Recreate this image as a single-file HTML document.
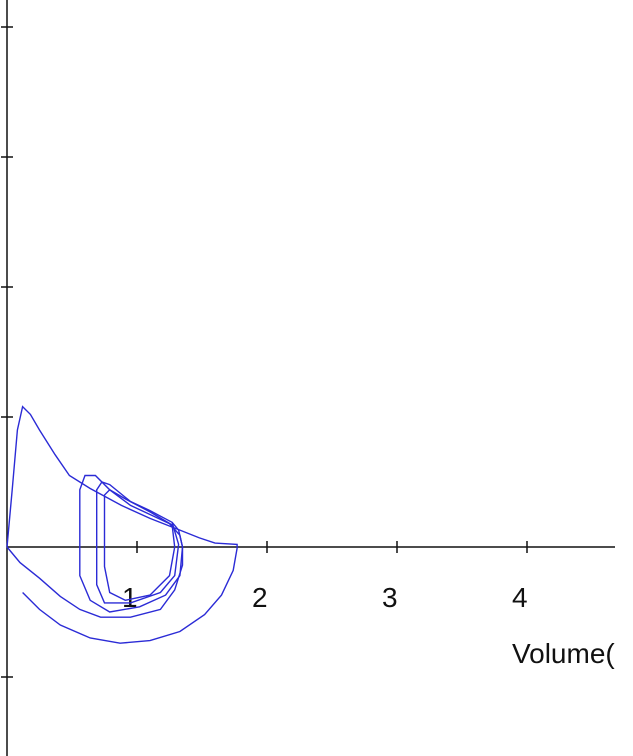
<!DOCTYPE html>
<html><head><meta charset="utf-8"><style>
html,body{margin:0;padding:0;background:#fff;}
svg{display:block;}
text{font-family:"Liberation Sans",sans-serif;}
</style></head><body>
<svg id="chart" width="633" height="756" viewBox="0 0 633 756">
<g id="axes"></g>
<g id="series"></g>
<text x="512" y="663" font-size="28" fill="#111">Volume(</text>
</svg>
<script>
const xTicks=[1,2,3,4];
const yTicks=[-1,1,2,3,4];
// loops in [volume, flow]
const loopBig=[[0,0],[0.04,0.44],[0.08,0.9],[0.12,1.08],[0.18,1.02],[0.25,0.9],[0.37,0.71],[0.48,0.55],[0.64,0.45],[0.88,0.32],[1.1,0.22],[1.33,0.13],[1.48,0.07],[1.6,0.03],[1.77,0.02],[1.77,-0.01],[1.74,-0.18],[1.65,-0.37],[1.52,-0.52],[1.33,-0.65],[1.1,-0.72],[0.87,-0.74],[0.64,-0.7],[0.41,-0.6],[0.25,-0.48],[0.12,-0.35]];
const loopLow=[[0,0],[0.1,-0.12],[0.25,-0.24],[0.41,-0.38],[0.56,-0.48],[0.72,-0.54],[0.95,-0.54],[1.18,-0.48],[1.29,-0.33],[1.35,-0.14],[1.35,0],[1.32,0.13],[1.27,0.19]];
const loopA=[[0.56,0],[0.56,0.44],[0.6,0.55],[0.68,0.55],[0.79,0.44],[0.95,0.32],[1.1,0.25],[1.25,0.18],[1.33,0.09],[1.35,0],[1.33,-0.22],[1.22,-0.37],[1.02,-0.46],[0.79,-0.5],[0.64,-0.41],[0.56,-0.22],[0.56,0]];
const loopB=[[0.69,-0.1],[0.69,0.44],[0.73,0.5],[0.79,0.48],[0.95,0.35],[1.1,0.28],[1.27,0.19],[1.32,0.02],[1.29,-0.22],[1.18,-0.35],[0.95,-0.43],[0.75,-0.43],[0.69,-0.29],[0.69,-0.1]];
const loopC=[[0.75,0.05],[0.75,0.4],[0.79,0.44],[0.91,0.37],[1.1,0.27],[1.27,0.17],[1.29,0],[1.25,-0.22],[1.1,-0.37],[0.91,-0.41],[0.79,-0.35],[0.75,-0.15],[0.75,0.05]];
const series=[loopBig,loopLow,loopA,loopB,loopC];
const X0=7,Y0=547,U=130;
const sx=v=>X0+v*U, sy=f=>Y0-f*U;
const NS="http://www.w3.org/2000/svg";
const ax=document.getElementById('axes');
function ln(x1,y1,x2,y2,name){const l=document.createElementNS(NS,'line');
l.setAttribute('x1',x1);l.setAttribute('y1',y1);l.setAttribute('x2',x2);l.setAttribute('y2',y2);
l.setAttribute('stroke','#111');l.setAttribute('stroke-width','1.5');


ax.appendChild(l);}
ln(X0,0,X0,756,'y-axis');
ln(X0,Y0,615,Y0,'x-axis');
xTicks.forEach(t=>{ln(sx(t),Y0-6,sx(t),Y0+6,'x-tick');
const tx=document.createElementNS(NS,'text');tx.setAttribute('x',sx(t)-15);tx.setAttribute('y',Y0+60);
tx.setAttribute('font-size','28');tx.setAttribute('fill','#111');tx.textContent=t;


ax.appendChild(tx);});
yTicks.forEach(t=>{ln(X0-6,sy(t),X0+6,sy(t),'y-tick');});
const sg=document.getElementById('series');
series.forEach((s,i)=>{const p=document.createElementNS(NS,'polyline');
p.setAttribute('points',s.map(d=>sx(d[0])+','+sy(d[1])).join(' '));
p.setAttribute('fill','none');p.setAttribute('stroke','#2b2bd6');p.setAttribute('stroke-width','1.4');


sg.appendChild(p);});
</script>
</body></html>
